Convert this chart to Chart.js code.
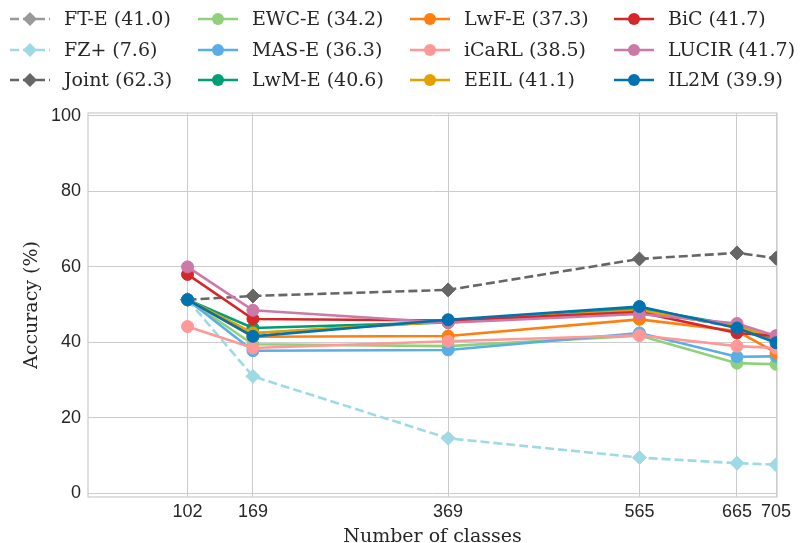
<!DOCTYPE html>
<html>
<head>
<meta charset="utf-8">
<script src="https://cdn.jsdelivr.net/npm/chart.js@4/dist/chart.umd.min.js"></script>
<style>
html,body{margin:0;padding:0;background:#fff;}
#wrap{width:801px;height:543px;position:relative;}
</style>
</head>
<body>
<div id="wrap"><canvas id="c" width="801" height="543"></canvas></div>
<script>
// ---- data ----
const classes = [102, 169, 369, 565, 665, 705];
const yTicks = [0, 20, 40, 60, 80, 100];

const ftE   = [51.3, 42.4, 45.5, 48.5, 44.0, 41.0];
const fzPlus= [51.3, 31.0, 14.6, 9.5, 8.0, 7.6];
const joint = [51.3, 52.3, 53.9, 62.1, 63.7, 62.3];
const ewcE  = [51.3, 39.5, 39.0, 41.8, 34.5, 34.2];
const masE  = [51.3, 37.8, 38.0, 42.5, 36.2, 36.3];
const lwmE  = [51.3, 43.8, 45.3, 49.0, 44.5, 40.6];
const lwfE  = [51.3, 41.5, 41.7, 46.1, 43.0, 37.3];
const icarl = [44.2, 38.5, 40.3, 41.9, 39.0, 38.5];
const eeil  = [51.3, 42.5, 45.5, 48.5, 44.3, 41.1];
const bic   = [58.0, 46.2, 45.8, 48.0, 42.5, 41.7];
const lucir = [60.0, 48.5, 45.2, 47.5, 45.0, 41.7];
const il2m  = [51.3, 41.6, 46.0, 49.5, 43.8, 39.9];

const seriesNames = ['FT-E (41.0)','FZ+ (7.6)','Joint (62.3)','EWC-E (34.2)','MAS-E (36.3)','LwM-E (40.6)',
                     'LwF-E (37.3)','iCaRL (38.5)','EEIL (41.1)','BiC (41.7)','LUCIR (41.7)','IL2M (39.9)'];
const seriesValues = [ftE, fzPlus, joint, ewcE, masE, lwmE, lwfE, icarl, eeil, bic, lucir, il2m];
const seriesColors = ['#999999','#9edae5','#666666','#8fd17a','#5aaee6','#009e73',
                      '#ff7f0e','#ff9896','#e69f00','#d62728','#cc79a7','#0072b2'];
const dashedSeries = [true, true, true, false, false, false, false, false, false, false, false, false];

const SERIF = "'DejaVu Serif', serif";
const SANS = "'Liberation Sans', Arial, sans-serif";
const TXT = '#262626';
const GRID = '#cccccc';

const datasets = seriesNames.map((name, i) => ({
  label: name,
  data: classes.map((x, j) => ({x: x, y: seriesValues[i][j]})),
  borderColor: seriesColors[i],
  backgroundColor: seriesColors[i],
  pointBackgroundColor: seriesColors[i],
  pointBorderColor: seriesColors[i],
  pointBorderWidth: 1,
  pointStyle: dashedSeries[i] ? 'rectRot' : 'circle',
  pointRadius: dashedSeries[i] ? 7 : 6,
  borderWidth: 2.6,
  borderDash: dashedSeries[i] ? [9, 4] : [],
  tension: 0,
  fill: false,
  order: seriesNames.length - 1 - i
}));

const legendCols = [30, 218, 430, 634];
const legendRows = [19, 50, 80];

const framePlugin = {
  id: 'framePlugin',
  beforeDatasetsDraw(chart) {
    const {ctx, chartArea: a} = chart;
    ctx.save();
    ctx.strokeStyle = GRID;
    ctx.lineWidth = 1.25;
    ctx.strokeRect(a.left, a.top, a.right - a.left, a.bottom - a.top);
    ctx.restore();
  },
  afterDraw(chart) {
    const ctx = chart.ctx;
    ctx.save();
    chart.data.datasets.forEach((ds, i) => {
      const col = Math.floor(i / 3), row = i % 3;
      const mx = legendCols[col], my = legendRows[row];
      ctx.strokeStyle = ds.borderColor;
      ctx.lineWidth = ds.borderWidth;
      ctx.setLineDash(ds.borderDash);
      ctx.beginPath();
      ctx.moveTo(mx - 20, my);
      ctx.lineTo(mx + 20, my);
      ctx.stroke();
      ctx.setLineDash([]);
      ctx.fillStyle = ds.backgroundColor;
      ctx.beginPath();
      if (ds.pointStyle === 'rectRot') {
        const r = 7;
        ctx.moveTo(mx, my - r); ctx.lineTo(mx + r, my); ctx.lineTo(mx, my + r); ctx.lineTo(mx - r, my);
        ctx.closePath();
      } else {
        ctx.arc(mx, my, 6, 0, Math.PI * 2);
      }
      ctx.fill();
      ctx.fillStyle = TXT;
      ctx.font = "19px " + SERIF;
      ctx.textAlign = 'left';
      ctx.textBaseline = 'middle';
      ctx.fillText(ds.label, mx + 34, my + 1);
    });
    ctx.restore();
  }
};

new Chart(document.getElementById('c'), {
  type: 'line',
  data: {datasets: datasets},
  options: {
    responsive: false,
    animation: false,
    devicePixelRatio: 1,
    layout: {padding: {top: 113, right: 24, left: 0, bottom: 0}},
    plugins: {legend: {display: false}, tooltip: {enabled: false}},
    scales: {
      x: {
        type: 'linear',
        min: 0,
        max: 706,
        afterBuildTicks: s => { s.ticks = classes.map(v => ({value: v})); },
        afterFit: s => { s.height = 46; },
        grid: {color: GRID, lineWidth: 1, drawTicks: false},
        border: {display: false},
        ticks: {
          font: {family: SANS, size: 18},
          color: TXT,
          padding: 4,
          maxRotation: 0,
          autoSkip: false,
          callback: v => String(v)
        },
        title: {
          display: true,
          text: 'Number of classes',
          font: {family: SERIF, size: 19, lineHeight: 1},
          color: TXT,
          padding: {top: 0, bottom: -4}
        }
      },
      y: {
        min: -0.95,
        max: 100.75,
        afterBuildTicks: s => { s.ticks = yTicks.map(v => ({value: v})); },
        afterFit: s => { s.width = 88; },
        grid: {color: GRID, lineWidth: 1, drawTicks: false},
        border: {display: false},
        ticks: {
          font: {family: SANS, size: 18},
          color: TXT,
          padding: 7,
          callback: v => String(v)
        },
        title: {
          display: true,
          text: 'Accuracy (%)',
          font: {family: SERIF, size: 19, lineHeight: 1.2},
          color: TXT,
          padding: {top: 21, bottom: 0}
        }
      }
    }
  },
  plugins: [framePlugin]
});
</script>
</body>
</html>
